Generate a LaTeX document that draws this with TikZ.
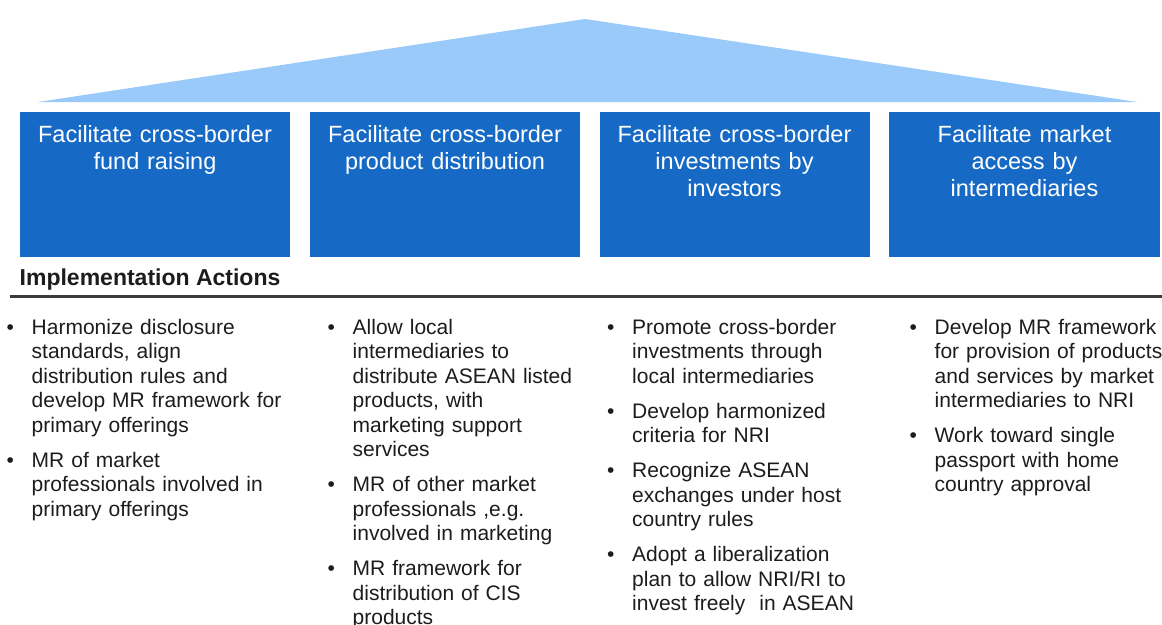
\documentclass[tikz,border=0pt]{standalone}
\usepackage{fontspec}
\setmainfont{Liberation Sans}
\definecolor{boxblue}{RGB}{22,106,198}
\definecolor{roofblue}{RGB}{153,202,250}
\definecolor{txtcol}{RGB}{28,28,28}
\definecolor{rulecol}{RGB}{60,60,60}
\newcommand\bitem[1]{\hangindent=25pt\hangafter=1\noindent\makebox[25pt][l]{\textbullet}#1\par}
\begin{document}
\begin{tikzpicture}[x=1pt,y=-1pt,
  pillar/.style={fill=boxblue, draw=none, minimum width=270pt, minimum height=145pt, inner sep=0pt, anchor=north west},
  head/.style={anchor=base, inner sep=0pt, text width=262pt, align=center, text=white, font=\fontsize{23.5}{27}\selectfont},
  bullets/.style={anchor=base west, inner sep=0pt, text width=290pt, align=left, text=txtcol, font=\fontsize{21}{24.5}\selectfont},
  title/.style={anchor=base west, inner sep=0pt, text=txtcol, font=\fontsize{23}{27}\selectfont\bfseries}
]
\useasboundingbox (0,0) rectangle (1162,624);
% roof
\fill[roofblue] (38,102) -- (585,19) -- (1137,102) -- cycle;
% pillars
\node[pillar] (p1) at (20,112) {};
\node[pillar] (p2) at (310,112) {};
\node[pillar] (p3) at (600,112) {};
\node[pillar, minimum width=271pt] (p4) at (889,112) {};
% headings
\node[head] (h1) at (155,142) {Facilitate cross-border\\fund raising};
\node[head] (h2) at (445,142) {Facilitate cross-border\\product distribution};
\node[head] (h3) at (734.5,142) {Facilitate cross-border\\investments by\\investors};
\node[head] (h4) at (1024.5,142) {Facilitate market\\access by\\intermediaries};
% section title and rule
\node[title] (impl) at (19.5,285) {Implementation Actions};
\coordinate (rl) at (10,296.5);
\coordinate (rr) at (1162,296.5);
\draw[rulecol, line width=2.4pt] (rl) -- (rr);
% bullet columns
\node[bullets] (c1) at (6.5,334) {\setlength\parskip{10.5pt}\bitem{Harmonize disclosure\newline standards, align\newline distribution rules and\newline develop MR framework for\newline primary offerings}\bitem{MR of market\newline professionals involved in\newline primary offerings}};
\node[bullets] (c2) at (327.5,334) {\setlength\parskip{10.5pt}\bitem{Allow local\newline intermediaries to\newline distribute ASEAN listed\newline products, with\newline marketing support\newline services}\bitem{MR of other market\newline professionals ,e.g.\newline involved in marketing}\bitem{MR framework for\newline distribution of CIS\newline products}};
\node[bullets] (c3) at (607,334) {\setlength\parskip{10.5pt}\bitem{Promote cross-border\newline investments through\newline local intermediaries}\bitem{Develop harmonized\newline criteria for NRI}\bitem{Recognize ASEAN\newline exchanges under host\newline country rules}\bitem{Adopt a liberalization\newline plan to allow NRI/RI to\newline invest freely\ \ in ASEAN}};
\node[bullets] (c4) at (909.5,334) {\setlength\parskip{10.5pt}\bitem{Develop MR framework\newline for provision of products\newline and services by market\newline intermediaries to NRI}\bitem{Work toward single\newline passport with home\newline country approval}};
\end{tikzpicture}
\end{document}
